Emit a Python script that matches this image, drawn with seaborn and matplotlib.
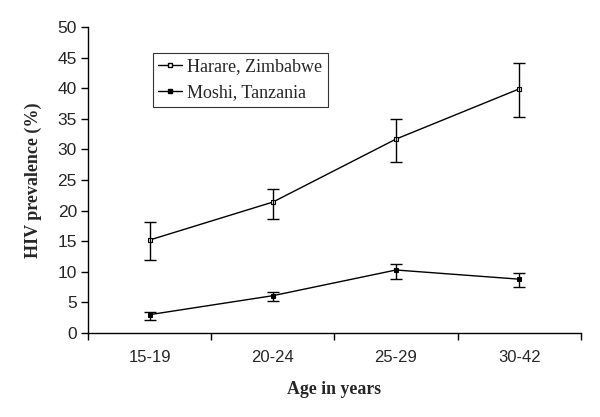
import matplotlib
matplotlib.use('Agg')
import matplotlib.pyplot as plt
from matplotlib.lines import Line2D
import numpy as np
import pandas as pd
import seaborn as sns

sns.set_style('white')
plt.rcParams['font.family'] = ['Liberation Sans', 'DejaVu Sans']

ages = ['15-19', '20-24', '25-29', '30-42']
harare = [15.2, 21.4, 31.7, 39.9]
harare_lo = [11.9, 18.7, 27.9, 35.3]
harare_hi = [18.1, 23.6, 35.0, 44.2]
moshi = [3.0, 6.1, 10.3, 8.8]
moshi_lo = [2.1, 5.2, 8.9, 7.5]
moshi_hi = [3.5, 6.7, 11.3, 9.8]

df = pd.DataFrame({'pos': np.arange(len(ages)), 'age': ages,
                   'Harare, Zimbabwe': harare, 'Moshi, Tanzania': moshi})

fig = plt.figure(figsize=(6, 4.17), dpi=100)
ax = fig.add_axes([0.1467, 0.2014, 0.8213, 0.7336])

sns.lineplot(data=df, x='pos', y='Harare, Zimbabwe', ax=ax, color='black', lw=1,
             marker='s', markersize=3.5, markerfacecolor='white', markeredgecolor='black', markeredgewidth=0.8)
sns.lineplot(data=df, x='pos', y='Moshi, Tanzania', ax=ax, color='black', lw=1,
             marker='s', markersize=3.5, markerfacecolor='black', markeredgecolor='black')

for vals, lo, hi in [(harare, harare_lo, harare_hi), (moshi, moshi_lo, moshi_hi)]:
    v = np.array(vals)
    yerr = [v - np.array(lo), np.array(hi) - v]
    ax.errorbar(df['pos'], v, yerr=yerr, fmt='none', ecolor='black', elinewidth=1, capsize=4, capthick=1)

ax.set_xlim(-0.5, 3.5)
ax.set_ylim(0, 50)
ax.set_yticks(range(0, 51, 5))
ax.set_xticks(np.arange(-0.5, 3.6, 1))
ax.set_xticklabels([])
ax.set_xticks(df['pos'], minor=True)
ax.set_xticklabels(ages, minor=True)
ax.tick_params(axis='x', which='major', direction='out', length=5, width=1, bottom=True, color='black')
ax.tick_params(axis='x', which='minor', length=0, pad=12, labelsize=12)
ax.tick_params(axis='y', direction='out', length=5, width=1, left=True, labelsize=12.5, color='black', pad=3)

sns.despine(ax=ax)
for s in ['left', 'bottom']:
    ax.spines[s].set_color('black')
    ax.spines[s].set_linewidth(1)

ax.set_xlabel('Age in years', family='Liberation Serif', fontweight='bold', fontsize=12.8, labelpad=12)
ax.set_ylabel('HIV prevalence (%)', family='Liberation Serif', fontweight='bold', fontsize=13, labelpad=11)

handles = [Line2D([], [], color='black', lw=1, marker='s', markersize=2.5, markerfacecolor='white', label='Harare, Zimbabwe'),
           Line2D([], [], color='black', lw=1, marker='s', markersize=2.5, markerfacecolor='black', label='Moshi, Tanzania')]
leg = ax.legend(handles=handles, loc='upper left', bbox_to_anchor=(0.132, 0.915), borderaxespad=0,
                frameon=True, fancybox=False, edgecolor='black', handlelength=1.3, handletextpad=0.3,
                borderpad=0.3, labelspacing=0.5, prop={'family': 'Liberation Serif', 'size': 13})
leg.get_frame().set_linewidth(0.8)

plt.savefig('out.png', dpi=100)
